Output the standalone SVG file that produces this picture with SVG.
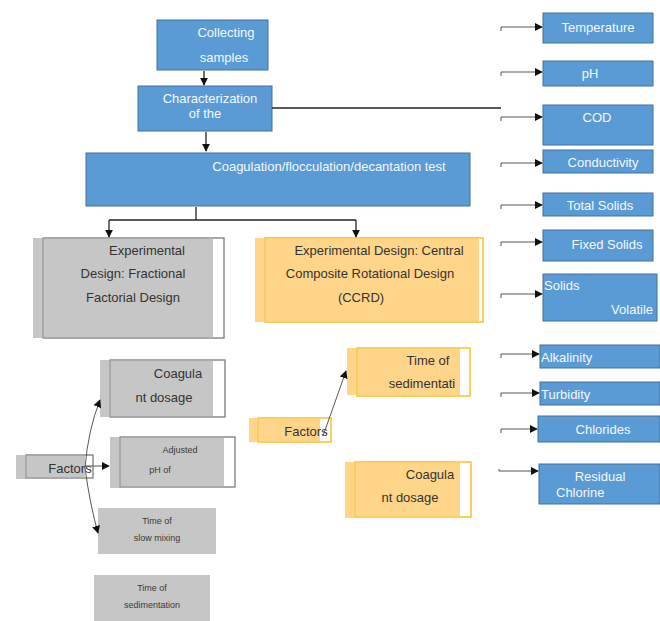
<svg xmlns="http://www.w3.org/2000/svg" width="660" height="621" viewBox="0 0 660 621">
<defs>
<style>
.blue{fill:#5B9BD5;stroke:#41719C;stroke-width:1}
.wt{fill:#F4F8FC;font-family:"Liberation Sans",Arial,sans-serif;font-size:13px}
.gbg{fill:#C6C6C6}
.gbox{fill:none;stroke:#8C8C8C;stroke-width:1}
.wbox{fill:#FFFFFF;stroke:#8C8C8C;stroke-width:1}
.obg{fill:#FFD58A}
.obox{fill:#FFFFFF;stroke:#F5C842;stroke-width:1.2}
.obox2{fill:none;stroke:#F5C842;stroke-width:1.2}
.dt{fill:#333;font-family:"Liberation Sans",Arial,sans-serif;font-size:13px}
.st{fill:#3A3A3A;font-family:"Liberation Sans",Arial,sans-serif;font-size:9px}
.ln{fill:none;stroke:#222;stroke-width:1.3}
.ln2{fill:none;stroke:#444;stroke-width:0.9}
</style>
<marker id="ah" viewBox="0 0 10 10" refX="9" refY="5" markerWidth="8" markerHeight="8" orient="auto" markerUnits="userSpaceOnUse">
<path d="M0,0 L10,5 L0,10 z" fill="#111"/>
</marker>
</defs>
<rect width="660" height="621" fill="#FFFFFF"/>

<g id="collecting">
<rect class="blue" x="157" y="20" width="111" height="50"/>
<text class="wt" x="226" y="37" text-anchor="middle">Collecting</text>
<text class="wt" x="224" y="62" text-anchor="middle">samples</text>
</g>
<g id="characterization">
<rect class="blue" x="138" y="86" width="134" height="45"/>
<text class="wt" x="210" y="103" text-anchor="middle">Characterization</text>
<text class="wt" x="205" y="118" text-anchor="middle">of the</text>
</g>
<g id="coagulation">
<rect class="blue" x="86" y="153" width="384" height="53"/>
<text class="wt" x="329" y="171" text-anchor="middle">Coagulation/flocculation/decantation test</text>
</g>

<g id="fractional">
<rect class="wbox" x="43" y="238" width="181" height="100"/>
<rect class="gbg" x="33" y="238" width="180" height="100"/>
<rect class="gbox" x="43" y="238" width="181" height="100"/>
<text class="dt" x="147" y="255" text-anchor="middle">Experimental</text>
<text class="dt" x="133" y="278" text-anchor="middle">Design: Fractional</text>
<text class="dt" x="133" y="302" text-anchor="middle">Factorial Design</text>
</g>
<g id="ccrd">
<rect class="obox" x="265" y="238" width="218" height="84"/>
<rect class="obg" x="255" y="238" width="224" height="84"/>
<rect class="obox2" x="265" y="238" width="218" height="84"/>
<text class="dt" x="379" y="255" text-anchor="middle">Experimental Design: Central</text>
<text class="dt" x="370" y="278" text-anchor="middle">Composite Rotational Design</text>
<text class="dt" x="361" y="302" text-anchor="middle">(CCRD)</text>
</g>

<g id="temperature"><rect class="blue" x="543" y="13" width="110" height="30"/><text class="wt" x="598" y="32" text-anchor="middle">Temperature</text></g>
<g id="ph"><rect class="blue" x="543" y="61" width="110" height="25"/><text class="wt" x="590" y="78" text-anchor="middle">pH</text></g>
<g id="cod"><rect class="blue" x="543" y="105" width="110" height="40"/><text class="wt" x="597" y="122" text-anchor="middle">COD</text></g>
<g id="conductivity"><rect class="blue" x="543" y="150" width="110" height="23"/><text class="wt" x="603" y="167" text-anchor="middle">Conductivity</text></g>
<g id="totalsolids"><rect class="blue" x="543" y="193" width="110" height="23"/><text class="wt" x="600" y="210" text-anchor="middle">Total Solids</text></g>
<g id="fixedsolids"><rect class="blue" x="543" y="230" width="110" height="31"/><text class="wt" x="607" y="249" text-anchor="middle">Fixed Solids</text></g>
<g id="volatile"><rect class="blue" x="543" y="274" width="114" height="47"/><text class="wt" x="544" y="290">Solids</text><text class="wt" x="653" y="314" text-anchor="end">Volatile</text></g>
<g id="alkalinity"><rect class="blue" x="540" y="345" width="120" height="23"/><text class="wt" x="541" y="362">Alkalinity</text></g>
<g id="turbidity"><rect class="blue" x="540" y="382" width="120" height="23"/><text class="wt" x="541" y="399">Turbidity</text></g>
<g id="chlorides"><rect class="blue" x="538" y="416" width="122" height="26"/><text class="wt" x="603" y="434" text-anchor="middle">Chlorides</text></g>
<g id="residual"><rect class="blue" x="539" y="464" width="121" height="40"/><text class="wt" x="600" y="481" text-anchor="middle">Residual</text><text class="wt" x="556" y="497">Chlorine</text></g>

<g id="coag-left">
<rect class="wbox" x="110" y="360" width="115" height="57"/>
<rect class="gbg" x="100" y="360" width="113" height="57"/>
<rect class="gbox" x="110" y="360" width="115" height="57"/>
<text class="dt" x="178" y="378" text-anchor="middle">Coagula</text>
<text class="dt" x="164" y="402" text-anchor="middle">nt dosage</text>
</g>
<g id="adjusted">
<rect class="wbox" x="120" y="437" width="115" height="50"/>
<rect class="gbg" x="110" y="437" width="114" height="51"/>
<rect class="gbox" x="120" y="437" width="115" height="50"/>
<text class="st" x="180" y="453" text-anchor="middle">Adjusted</text>
<text class="st" x="160" y="473" text-anchor="middle">pH of</text>
</g>
<g id="slowmixing">
<rect class="gbg" x="98" y="508" width="118" height="46"/>
<text class="st" x="157" y="524" text-anchor="middle">Time of</text>
<text class="st" x="157" y="541" text-anchor="middle">slow mixing</text>
</g>
<g id="sedimentation-left">
<rect class="gbg" x="94" y="575" width="116" height="46"/>
<text class="st" x="152" y="591" text-anchor="middle">Time of</text>
<text class="st" x="152" y="608" text-anchor="middle">sedimentation</text>
</g>
<g id="factors-left">
<rect class="wbox" x="26" y="455" width="67" height="23"/>
<rect class="gbg" x="16" y="455" width="69" height="24"/>
<rect class="gbox" x="26" y="455" width="67" height="23"/>
<text class="dt" x="70" y="473" text-anchor="middle" font-size="14">Factors</text>
</g>

<g id="factors-mid">
<rect class="obox" x="258" y="418" width="73" height="24"/>
<rect class="obg" x="249" y="418" width="71" height="24"/>
<rect class="obox2" x="258" y="418" width="73" height="24"/>
<text class="dt" x="306" y="436" text-anchor="middle" font-size="14">Factors</text>
</g>
<g id="sedim-mid">
<rect class="obox" x="357" y="348" width="113" height="48"/>
<rect class="obg" x="347" y="348" width="113" height="47"/>
<rect class="obox2" x="357" y="348" width="113" height="48"/>
<text class="dt" x="428" y="365" text-anchor="middle">Time of</text>
<text class="dt" x="422" y="388" text-anchor="middle">sedimentati</text>
</g>
<g id="coag-mid">
<rect class="obox" x="355" y="462" width="116" height="55"/>
<rect class="obg" x="345" y="462" width="115" height="56"/>
<rect class="obox2" x="355" y="462" width="116" height="55"/>
<text class="dt" x="430" y="479" text-anchor="middle">Coagula</text>
<text class="dt" x="410" y="502" text-anchor="middle">nt dosage</text>
</g>

<g id="connectors">
<path class="ln" d="M204,71 V85" marker-end="url(#ah)"/>
<path class="ln" d="M206,132 V151" marker-end="url(#ah)"/>
<path class="ln" d="M272,108 H501"/>
<path class="ln" d="M196,207 V220"/>
<path class="ln" d="M109,220 H356"/>
<path class="ln" d="M109,220 V237" marker-end="url(#ah)"/>
<path class="ln" d="M356,220 V237" marker-end="url(#ah)"/>
<path class="ln2" d="M501,31 V27 H542" marker-end="url(#ah)"/>
<path class="ln2" d="M501,76 V72 H542" marker-end="url(#ah)"/>
<path class="ln2" d="M501,121 V117 H542" marker-end="url(#ah)"/>
<path class="ln2" d="M501,167 V163 H542" marker-end="url(#ah)"/>
<path class="ln2" d="M501,209 V205 H542" marker-end="url(#ah)"/>
<path class="ln2" d="M501,246 V242 H542" marker-end="url(#ah)"/>
<path class="ln2" d="M501,298 V294 H542" marker-end="url(#ah)"/>
<path class="ln2" d="M501,358 V354 H539" marker-end="url(#ah)"/>
<path class="ln2" d="M501,397 V393 H539" marker-end="url(#ah)"/>
<path class="ln2" d="M501,433 V429 H537" marker-end="url(#ah)"/>
<path class="ln2" d="M499,469 V471 H538" marker-end="url(#ah)"/>
<path class="ln2" d="M85,468 Q88,430 100,400" marker-end="url(#ah)"/>
<path class="ln2" d="M85,466 H109" marker-end="url(#ah)"/>
<path class="ln2" d="M85,468 Q90,505 98,533" marker-end="url(#ah)"/>
<path class="ln2" d="M323,436 L346,371" marker-end="url(#ah)"/>
</g>
</svg>
